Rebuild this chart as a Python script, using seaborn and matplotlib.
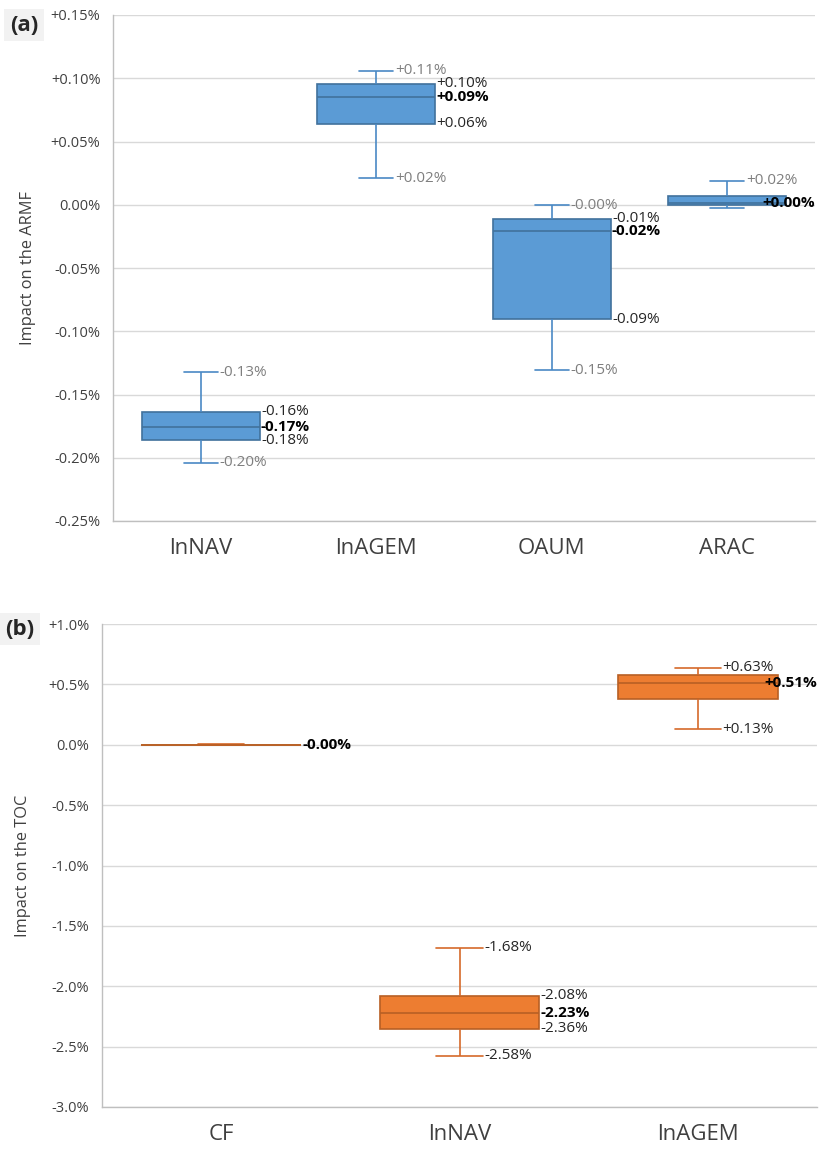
import matplotlib
matplotlib.use("Agg")
import matplotlib.pyplot as plt
import matplotlib.transforms as mtransforms
from matplotlib.ticker import FuncFormatter
import numpy as np
import pandas as pd
import seaborn as sns

# (a) impact on the ARMF, five-number summaries in %
armf_cats = ["lnNAV", "lnAGEM", "OAUM", "ARAC"]
armf_min = [-0.204, 0.021, -0.131, -0.0026]
armf_q1 = [-0.186, 0.064, -0.0905, -0.0005]
armf_med = [-0.176, 0.0855, -0.0206, 0.001]
armf_q3 = [-0.1635, 0.0958, -0.0109, 0.0066]
armf_max = [-0.1325, 0.1058, -0.0005, 0.0188]
# printed labels (None = not shown)
armf_lab_min = ["-0.20%", "+0.02%", "-0.15%", None]
armf_lab_q1 = ["-0.18%", "+0.06%", "-0.09%", None]
armf_lab_med = ["-0.17%", "+0.09%", "-0.02%", "+0.00%"]
armf_lab_q3 = ["-0.16%", "+0.10%", "-0.01%", None]
armf_lab_max = ["-0.13%", "+0.11%", "-0.00%", "+0.02%"]

# (b) impact on the TOC, in %
toc_cats = ["CF", "lnNAV", "lnAGEM"]
toc_min = [-0.004, -2.576, 0.128]
toc_q1 = [-0.002, -2.35, 0.383]
toc_med = [-0.001, -2.223, 0.515]
toc_q3 = [0.001, -2.078, 0.578]
toc_max = [0.003, -1.681, 0.636]
toc_lab_min = [None, "-2.58%", "+0.13%"]
toc_lab_q1 = [None, "-2.36%", None]
toc_lab_med = ["-0.00%", "-2.23%", "+0.51%"]
toc_lab_q3 = [None, "-2.08%", None]
toc_lab_max = [None, "-1.68%", "+0.63%"]

sns.set_theme(style="white")
plt.rcParams["font.family"] = ["Open Sans", "DejaVu Sans"]

BOX_W = 0.67
CAP_W = 0.195


def long_df(cats, *cols):
    rows = []
    for i, c in enumerate(cats):
        for col in cols:
            rows.append({"cat": c, "val": col[i]})
    return pd.DataFrame(rows)


def draw_panel(ax, cats, mins, q1s, meds, q3s, maxs, labs, face, edge, whisk,
               whisk_lab_color, ylim, yticks, fmt, ylabel):
    df = long_df(cats, mins, q1s, meds, q3s, maxs)
    sns.boxplot(data=df, x="cat", y="val", order=cats, whis=(0, 100),
                width=BOX_W, color=face, linecolor=edge, saturation=1,
                linewidth=1.2, capwidths=CAP_W,
                whiskerprops={"color": whisk}, capprops={"color": whisk},
                ax=ax)
    ax.set_ylim(*ylim)
    ax.set_yticks(yticks)
    ax.yaxis.set_major_formatter(FuncFormatter(fmt))
    ax.yaxis.grid(True, color="#d9d9d9", lw=1)
    ax.set_axisbelow(True)
    for s in ["top", "right"]:
        ax.spines[s].set_visible(False)
    for s in ["left", "bottom"]:
        ax.spines[s].set_color("#bfbfbf")
        ax.spines[s].set_linewidth(1)
    ax.tick_params(axis="y", length=0, pad=9, labelsize=10.5, labelcolor="#404040")
    ax.tick_params(axis="x", length=0, pad=12, labelsize=16, labelcolor="#404040")
    ax.set_xlabel("")
    ax.set_ylabel(ylabel, fontsize=11.8, color="#404040")

    off = mtransforms.offset_copy(ax.transData, fig=ax.figure, x=1.0, y=0, units="points")
    lab_min, lab_q1, lab_med, lab_q3, lab_max = labs
    texts = []
    for i in range(len(cats)):
        items = [
            (i + CAP_W / 2, maxs[i], lab_max[i], whisk_lab_color, "normal"),
            (i + BOX_W / 2, q3s[i], lab_q3[i], "#262626", "normal"),
            (i + BOX_W / 2, meds[i], lab_med[i], "black", "bold"),
            (i + BOX_W / 2, q1s[i], lab_q1[i], "#262626", "normal"),
            (i + CAP_W / 2, mins[i], lab_min[i], whisk_lab_color, "normal"),
        ]
        for x, y, s, c, w in items:
            if s is None:
                continue
            t = ax.text(x, y, s, transform=off, ha="left", va="center",
                        fontsize=11, color=c, fontweight=w)
            texts.append(t)
    return texts


fig = plt.figure(figsize=(8.23, 11.5), dpi=100)
ax_a = fig.add_axes([113 / 823, 1 - 521 / 1150, 702 / 823, 506 / 1150])
ax_b = fig.add_axes([102 / 823, 1 - 1107 / 1150, 715 / 823, 483 / 1150])


def fmt_a(v, pos):
    if abs(v) < 1e-9:
        return "0.00%"
    return f"{v:+.2f}%"


def fmt_b(v, pos):
    if abs(v) < 1e-9:
        return "0.0%"
    return f"{v:+.1f}%"


texts_a = draw_panel(ax_a, armf_cats, armf_min, armf_q1, armf_med, armf_q3, armf_max,
                     (armf_lab_min, armf_lab_q1, armf_lab_med, armf_lab_q3, armf_lab_max),
                     "#5b9bd5", "#41719c", "#4a89c5", "#7f7f7f",
                     (-0.25, 0.15), np.arange(-0.25, 0.151, 0.05), fmt_a,
                     "Impact on the ARMF")
texts_b = draw_panel(ax_b, toc_cats, toc_min, toc_q1, toc_med, toc_q3, toc_max,
                     (toc_lab_min, toc_lab_q1, toc_lab_med, toc_lab_q3, toc_lab_max),
                     "#ed7d31", "#b85f24", "#d5692a", "#262626",
                     (-3.0, 1.0), np.arange(-3.0, 1.01, 0.5), fmt_b,
                     "Impact on the TOC")

ax_a.yaxis.set_label_coords(-0.11, 0.5)
ax_b.yaxis.set_label_coords(-0.099, 0.5)

fig.text(0.029, 0.978, "(a)", fontsize=16, fontweight="bold", ha="center", va="center",
         bbox=dict(boxstyle="square,pad=0.25", fc="#f2f2f2", ec="none"))
fig.text(0.0243, 0.453, "(b)", fontsize=16, fontweight="bold", ha="center", va="center",
         bbox=dict(boxstyle="square,pad=0.25", fc="#f2f2f2", ec="none"))

# keep labels inside the plot area, as the spreadsheet does
fig.canvas.draw()
renderer = fig.canvas.get_renderer()
for ax, texts in [(ax_a, texts_a), (ax_b, texts_b)]:
    right = ax.get_window_extent(renderer).x1
    for t in texts:
        if t.get_window_extent(renderer).x1 > right:
            t.set_transform(ax.get_yaxis_transform())
            t.set_x(1.0)
            t.set_ha("right")

fig.savefig("out.png", dpi=100)
